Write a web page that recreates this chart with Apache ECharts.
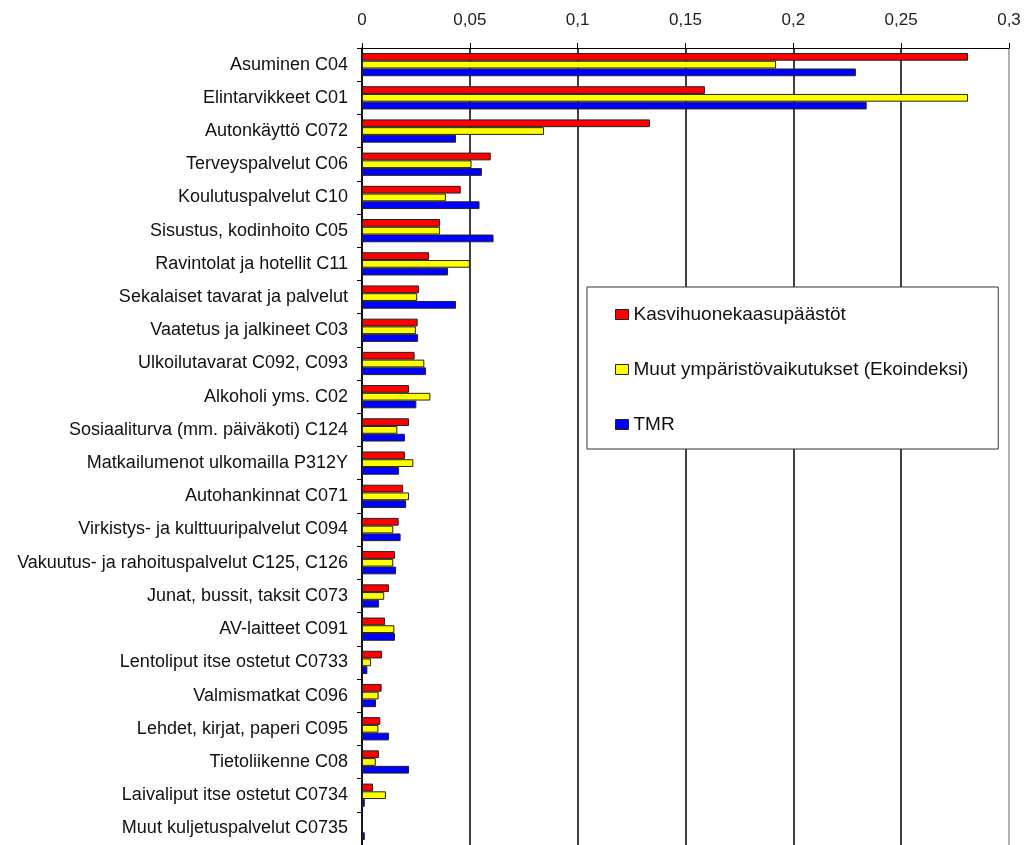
<!DOCTYPE html>
<html>
<head>
<meta charset="utf-8">
<script src="https://cdn.jsdelivr.net/npm/echarts@6/dist/echarts.min.js"></script>
<style>
  html, body { margin: 0; padding: 0; background: #fff; }
  #main { width: 1035px; height: 845px; }
</style>
</head>
<body>
<div id="main"></div>
<script>
// categories, top to bottom
var categories = ['Asuminen C04', 'Elintarvikkeet C01', 'Autonkäyttö C072', 'Terveyspalvelut C06',
    'Koulutuspalvelut C10', 'Sisustus, kodinhoito C05', 'Ravintolat ja hotellit C11',
    'Sekalaiset tavarat ja palvelut', 'Vaatetus ja jalkineet C03', 'Ulkoilutavarat C092, C093',
    'Alkoholi yms. C02', 'Sosiaaliturva (mm. päiväkoti) C124', 'Matkailumenot ulkomailla P312Y',
    'Autohankinnat C071', 'Virkistys- ja kulttuuripalvelut C094', 'Vakuutus- ja rahoituspalvelut C125, C126',
    'Junat, bussit, taksit C073', 'AV-laitteet C091', 'Lentoliput itse ostetut C0733', 'Valmismatkat C096',
    'Lehdet, kirjat, paperi C095', 'Tietoliikenne C08', 'Laivaliput itse ostetut C0734', 'Muut kuljetuspalvelut C0735'];

var seriesNames = ['Kasvihuonekaasupäästöt', 'Muut ympäristövaikutukset (Ekoindeksi)', 'TMR'];

var ghg = [0.281, 0.159, 0.1335, 0.0597, 0.0458, 0.0362, 0.0311, 0.0264, 0.0258, 0.0244, 0.0218, 0.0218,
    0.0199, 0.0191, 0.017, 0.0153, 0.0125, 0.0107, 0.0093, 0.0091, 0.0085, 0.0079, 0.0051, 0];
var ekoindeksi = [0.192, 0.281, 0.0844, 0.0508, 0.0389, 0.0362, 0.050, 0.0256, 0.025, 0.0289, 0.0317, 0.0164,
    0.0238, 0.0218, 0.0145, 0.0145, 0.0103, 0.015, 0.0042, 0.0077, 0.0076, 0.0064, 0.0111, 0];
var tmr = [0.229, 0.234, 0.0436, 0.0556, 0.0545, 0.061, 0.0399, 0.0436, 0.026, 0.0297, 0.0252, 0.0199,
    0.0172, 0.0205, 0.0179, 0.0158, 0.0079, 0.0153, 0.0025, 0.0065, 0.0125, 0.0218, 0.0013, 0.0013];

var colors = ['#ff0000', '#ffff00', '#0000ff'];
var font = "'Liberation Sans', Arial, sans-serif";

var dom = document.getElementById('main');
var chart = echarts.init(dom);

var makeSeries = function(name, data, color) {
    return {
        name: name,
        type: 'bar',
        data: data,
        barGap: 0,
        barCategoryGap: '30%',
        itemStyle: { color: color, borderColor: '#222', borderWidth: 1 },
        animation: false
    };
};

var option = {
    backgroundColor: '#fff',
    animation: false,
    grid: { left: 362, top: 48, right: 26, height: 797, containLabel: false },
    legend: {
        orient: 'vertical',
        left: 587,
        top: 287,
        data: seriesNames,
        icon: 'rect',
        itemWidth: 13,
        itemHeight: 10,
        itemGap: 36,
        padding: [18, 30, 15, 28],
        borderColor: '#333',
        borderWidth: 1,
        backgroundColor: '#fff',
        textStyle: { fontFamily: font, fontSize: 19, color: '#111' },
        itemStyle: { borderColor: '#222', borderWidth: 1 }
    },
    xAxis: {
        type: 'value',
        position: 'top',
        min: 0,
        max: 0.3,
        interval: 0.05,
        axisLine: { show: true, lineStyle: { color: '#000', width: 1 } },
        axisTick: { show: true, length: 5, lineStyle: { color: '#000' } },
        axisLabel: {
            margin: 19,
            fontFamily: font,
            fontSize: 17,
            color: '#222',
            formatter: function(v) { return String(Number(v.toFixed(2))).replace('.', ','); }
        },
        splitLine: {
            show: true,
            lineStyle: { color: ['#000', '#000', '#000', '#000', '#000', '#000', '#999'], width: 1.5 }
        }
    },
    yAxis: {
        type: 'category',
        inverse: true,
        data: categories,
        axisLine: { show: true, lineStyle: { color: '#000', width: 1.5 } },
        axisTick: { show: true, length: 5, lineStyle: { color: '#000' } },
        axisLabel: { margin: 14, fontFamily: font, fontSize: 18, color: '#111' }
    },
    series: [
        makeSeries(seriesNames[0], ghg, colors[0]),
        makeSeries(seriesNames[1], ekoindeksi, colors[1]),
        makeSeries(seriesNames[2], tmr, colors[2])
    ]
};

chart.setOption(option);
</script>
</body>
</html>
